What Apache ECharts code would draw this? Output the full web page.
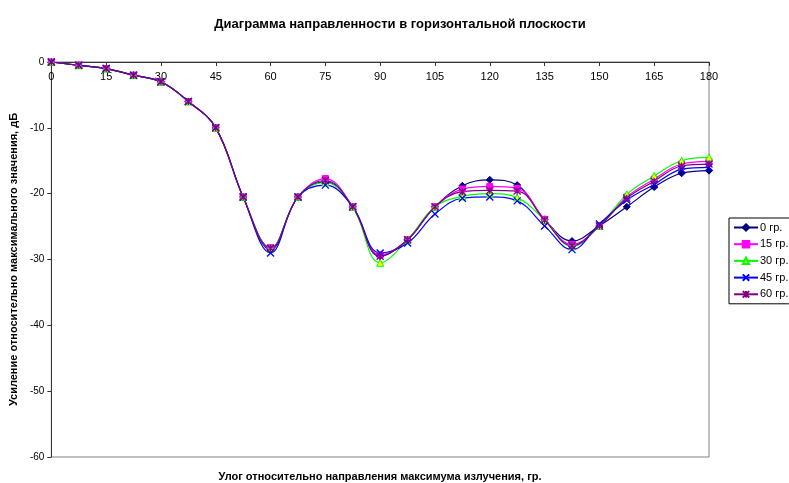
<!DOCTYPE html>
<html>
<head>
<meta charset="utf-8">
<script src="https://cdn.jsdelivr.net/npm/echarts@6/dist/echarts.min.js"></script>
<style>
html,body{margin:0;padding:0;background:#fff;}
#chart{width:789px;height:483px;}
</style>
</head>
<body>
<div id="chart"></div>
<script>
var angles = [0,7.5,15,22.5,30,37.5,45,52.5,60,67.5,75,82.5,90,97.5,105,112.5,120,127.5,135,142.5,150,157.5,165,172.5,180];
var xTicks = [0,15,30,45,60,75,90,105,120,135,150,165,180];
var yTicks = [-60,-50,-40,-30,-20,-10,0];
var seriesNames = ['0 гр.','15 гр.','30 гр.','45 гр.','60 гр.'];
var s0  = [0,-0.5,-1,-2,-3,-6,-10,-20.5,-28.5,-20.5,-18.2,-22,-29.5,-27,-22,-18.8,-17.9,-18.7,-23.9,-27.2,-24.9,-22.0,-19.0,-16.9,-16.5];
var s15 = [0,-0.5,-1,-2,-3,-6,-10,-20.5,-28.2,-20.5,-17.7,-22,-29.3,-27,-22,-19.3,-18.9,-19.2,-23.9,-27.7,-24.9,-20.5,-17.8,-15.5,-15.1];
var s30 = [0,-0.5,-1,-2,-3,-6,-10,-20.5,-28.3,-20.5,-18.3,-22,-30.5,-27,-22,-20.4,-20.0,-20.6,-24.0,-28.0,-24.9,-20.1,-17.3,-15.0,-14.5];
var s45 = [0,-0.5,-1,-2,-3,-6,-10,-20.5,-29.0,-20.5,-18.7,-22,-29.0,-27.5,-23.1,-20.7,-20.5,-21.1,-24.9,-28.5,-24.6,-21.0,-18.6,-16.3,-16.0];
var s60 = [0,-0.5,-1,-2,-3,-6,-10,-20.5,-28.3,-20.5,-18.0,-22,-29.5,-27,-22,-19.7,-19.5,-19.6,-24.0,-27.9,-24.9,-20.7,-18.1,-15.8,-15.5];

var FONT = 'Arial, "Liberation Sans", sans-serif';
function pairs(arr){ return angles.map(function(a,i){ return [a, arr[i]]; }); }

var styles = [
  {color:'#000080', symbol:'diamond', size:7, fill:'#000080', border:'#000080'},
  {color:'#FF00FF', symbol:'rect', size:6, fill:'#FF00FF', border:'#FF00FF'},
  {color:'#00FF00', symbol:'triangle', size:7, fill:'#FFFF00', border:'#00FF00'},
  {color:'#0000FF', symbol:'path://M0,0L10,10M10,0L0,10', size:7, fill:'#0000FF', border:'#0000FF'},
  {color:'#800080', symbol:'path://M0,0L10,10M10,0L0,10M5,0L5,10', size:7, fill:'#800080', border:'#800080'}
];
var dataSets = [s0,s15,s30,s45,s60];

var series = dataSets.map(function(d,i){
  var st = styles[i];
  return {
    name: seriesNames[i],
    type: 'line',
    data: pairs(d),
    smooth: 0.4,
    symbol: st.symbol,
    symbolSize: st.size,
    showAllSymbol: true,
    lineStyle: {color: st.color, width: 1.2},
    itemStyle: {color: st.fill, borderColor: st.border, borderWidth: (i>=3?1.3:1)},
    emphasis: {disabled: true},
    animation: false
  };
});

var chart = echarts.init(document.getElementById('chart'), null, {renderer:'canvas'});
chart.setOption({
  backgroundColor: '#fff',
  animation: false,
  textStyle: {fontFamily: FONT},
  color: styles.map(function(s){return s.color;}),
  title: [
    {text: 'Диаграмма направленности в горизонтальной плоскости', left: 395, top: 13, textAlign: 'center',
     textStyle: {fontFamily: FONT, fontSize: 13, fontWeight: 'bold', color: '#000'}},
    {text: 'Улог относительно направления максимума излучения, гр.', left: 375, top: 466, textAlign: 'center',
     textStyle: {fontFamily: FONT, fontSize: 11, fontWeight: 'bold', color: '#000'}}
  ],
  legend: {
    orient: 'vertical',
    left: 729, top: 218,
    itemWidth: 24, itemHeight: 8, itemGap: 5.7,
    padding: [4, 4, 4, 4],
    borderColor: '#000', borderWidth: 1,
    textStyle: {fontFamily: FONT, fontSize: 11, color: '#000', padding: [0,0,0,-3]},
    data: seriesNames
  },
  grid: {left: 49, right: 80, top: 62, bottom: 26, show: true, borderColor: '#808080', borderWidth: 1, backgroundColor: 'transparent'},
  xAxis: {
    type: 'value', min: xTicks[0], max: xTicks[xTicks.length-1], interval: xTicks[1]-xTicks[0],
    position: 'top',
    axisLine: {show: true, onZero: false, lineStyle: {color: '#333', width: 1}},
    axisTick: {show: true, inside: true, length: 4, lineStyle: {color: '#333'}},
    axisLabel: {inside: true, margin: 9, fontSize: 11, color: '#000', fontFamily: FONT},
    splitLine: {show: false}
  },
  yAxis: {
    type: 'value', min: yTicks[0], max: yTicks[yTicks.length-1], interval: yTicks[1]-yTicks[0],
    name: 'Усиление относительно максимального значения, дБ',
    nameLocation: 'middle', nameGap: 30, nameRotate: 90,
    nameTextStyle: {fontFamily: FONT, fontSize: 11, fontWeight: 'bold', color: '#000'},
    axisLine: {show: true, onZero: false, lineStyle: {color: '#333', width: 1}},
    axisTick: {show: true, length: 4, lineStyle: {color: '#333'}},
    axisLabel: {margin: 7, fontSize: 10, color: '#000', fontFamily: FONT},
    splitLine: {show: false}
  },
  series: series
});
</script>
</body>
</html>
